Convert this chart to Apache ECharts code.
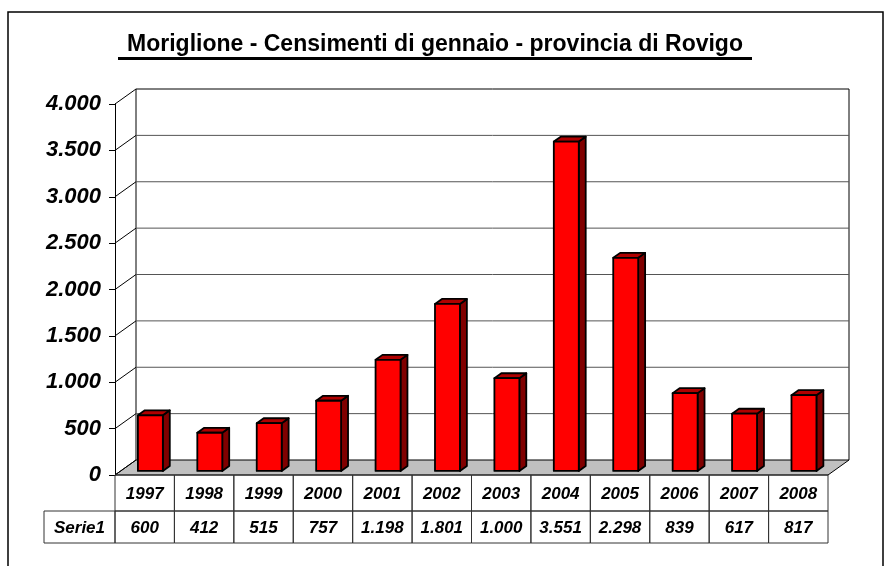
<!DOCTYPE html>
<html><head><meta charset="utf-8">
<script src="https://cdn.jsdelivr.net/npm/echarts@6/dist/echarts.min.js"></script>
<style>html,body{margin:0;padding:0;background:#fff}#c{width:890px;height:566px}</style>
</head><body><div id="c"></div>
<script>
const titleText = 'Moriglione - Censimenti di gennaio - provincia di Rovigo';
const seriesName = 'Serie1';
const years = ['1997','1998','1999','2000','2001','2002','2003','2004','2005','2006','2007','2008'];
const population = [600, 412, 515, 757, 1198, 1801, 1000, 3551, 2298, 839, 617, 817];
const yTicks = [0, 500, 1000, 1500, 2000, 2500, 3000, 3500, 4000];

const FONT = '"Liberation Sans", Arial, sans-serif';
const DX = 21, DY = -15;
function fmt(n){ return String(n).replace(/\B(?=(\d{3})+(?!\d))/g, '.'); }

const chart = echarts.init(document.getElementById('c'));

function renderFrame(params, api){
  const cs = params.coordSys;
  const x0 = cs.x, x1 = cs.x + cs.width;
  const t = api.value(0);
  const y = api.coord([0, t])[1];
  const children = [];
  if (params.dataIndex === 0){
    const yb = api.coord([0, 0])[1];
    const ytop = api.coord([0, yTicks[yTicks.length-1]])[1];
    children.push({type:'polygon', shape:{points:[[x0,yb],[x1,yb],[x1+DX,yb+DY],[x0+DX,yb+DY]]},
      style:{fill:'#c0c0c0', stroke:'#000', lineWidth:1}});
    children.push({type:'line', shape:{x1:x0+DX,y1:ytop+DY,x2:x0+DX,y2:yb+DY}, style:{stroke:'#000',lineWidth:1}});
    children.push({type:'line', shape:{x1:x1+DX,y1:ytop+DY,x2:x1+DX,y2:yb+DY}, style:{stroke:'#000',lineWidth:1}});
  } else {
    children.push({type:'line', shape:{x1:x0+DX,y1:y+DY,x2:x1+DX,y2:y+DY}, style:{stroke: t===yTicks[yTicks.length-1]?'#000':'#555', lineWidth:1}});
  }
  children.push({type:'line', shape:{x1:x0,y1:y,x2:x0+DX,y2:y+DY}, style:{stroke:'#000',lineWidth:1}});
  return {type:'group', children};
}

function renderBar(params, api){
  const i = api.value(0), v = api.value(1);
  const top = api.coord([i, v]), base = api.coord([i, 0]);
  const bw = api.size([1, 0])[0];
  const w = bw * 0.42;
  const d1 = 0.27, d2 = 0.6;
  const fx = top[0] - w/2 + DX*d1;
  const fy0 = base[1] + DY*d1, fy1 = top[1] + DY*d1;
  const ox = DX*(d2-d1), oy = DY*(d2-d1);
  const st = {stroke:'#000', lineWidth:1.8, lineJoin:'round'};
  return {type:'group', children:[
    {type:'polygon', shape:{points:[[fx+w,fy1],[fx+w+ox,fy1+oy],[fx+w+ox,fy0+oy],[fx+w,fy0]]}, style:Object.assign({fill:'#800000'}, st)},
    {type:'polygon', shape:{points:[[fx,fy1],[fx+ox,fy1+oy],[fx+w+ox,fy1+oy],[fx+w,fy1]]}, style:Object.assign({fill:'#b00000'}, st)},
    {type:'rect', shape:{x:fx, y:fy1, width:w, height:fy0-fy1}, style:Object.assign({fill:'#ff0000'}, st)}
  ]};
}

const R1 = 36, R2 = 32, HEADX = 44;
function renderTable(params, api){
  const i = api.value(0);
  const c = api.coord([i, 0]);
  const bw = api.size([1, 0])[0];
  const xl = c[0] - bw/2, y0 = c[1];
  const ts = {fill:'#000', font:'italic bold 17px ' + FONT, align:'center', verticalAlign:'middle'};
  const ls = {fill:'none', stroke:'#333', lineWidth:1};
  const ch = [
    {type:'rect', shape:{x:xl, y:y0, width:bw, height:R1}, style:ls},
    {type:'rect', shape:{x:xl, y:y0+R1, width:bw, height:R2}, style:ls},
    {type:'text', x:c[0], y:y0+R1/2+1, style:Object.assign({text:years[i]}, ts)},
    {type:'text', x:c[0], y:y0+R1+R2/2+1, style:Object.assign({text:fmt(population[i])}, ts)}
  ];
  if (i === 0){
    ch.push({type:'rect', shape:{x:HEADX, y:y0+R1, width:xl-HEADX, height:R2}, style:ls});
    ch.push({type:'text', x:(HEADX+xl)/2, y:y0+R1+R2/2+1, style:Object.assign({text:seriesName}, ts)});
  }
  return {type:'group', children:ch};
}

chart.setOption({
  animation:false,
  backgroundColor:'#fff',
  graphic:[
    {type:'rect', shape:{x:8, y:12, width:875, height:600}, style:{fill:'none', stroke:'#000', lineWidth:1.5}, z:-10},
    {type:'text', x:435, y:45, style:{text:titleText, font:'bold 23px ' + FONT, fill:'#000', align:'center', verticalAlign:'middle'}},
    {type:'rect', shape:{x:118, y:57, width:634, height:3}, style:{fill:'#000'}}
  ],
  grid:{left:115, right:62, top:104, bottom:91, containLabel:false},
  xAxis:{type:'category', data:years, show:false, boundaryGap:true},
  yAxis:{type:'value', min:0, max:4000, interval:500,
    axisLine:{show:true, lineStyle:{color:'#000', width:1}},
    axisTick:{show:true, length:6, lineStyle:{color:'#000'}},
    splitLine:{show:false},
    axisLabel:{margin:14, color:'#000', fontFamily:'Liberation Sans', fontSize:22, fontWeight:'bold', fontStyle:'italic', formatter:v=>fmt(v)}
  },
  series:[
    {type:'custom', name:'frame', renderItem:renderFrame, data:yTicks.map(t=>[t]), encode:{y:0}, z:1, silent:true},
    {type:'custom', name:seriesName, renderItem:renderBar, data:population.map((v,i)=>[i,v]), encode:{x:0,y:1}, z:3},
    {type:'custom', name:'table', renderItem:renderTable, data:years.map((y,i)=>[i]), encode:{x:0}, z:4, silent:true}
  ]
});
</script>
</body></html>
